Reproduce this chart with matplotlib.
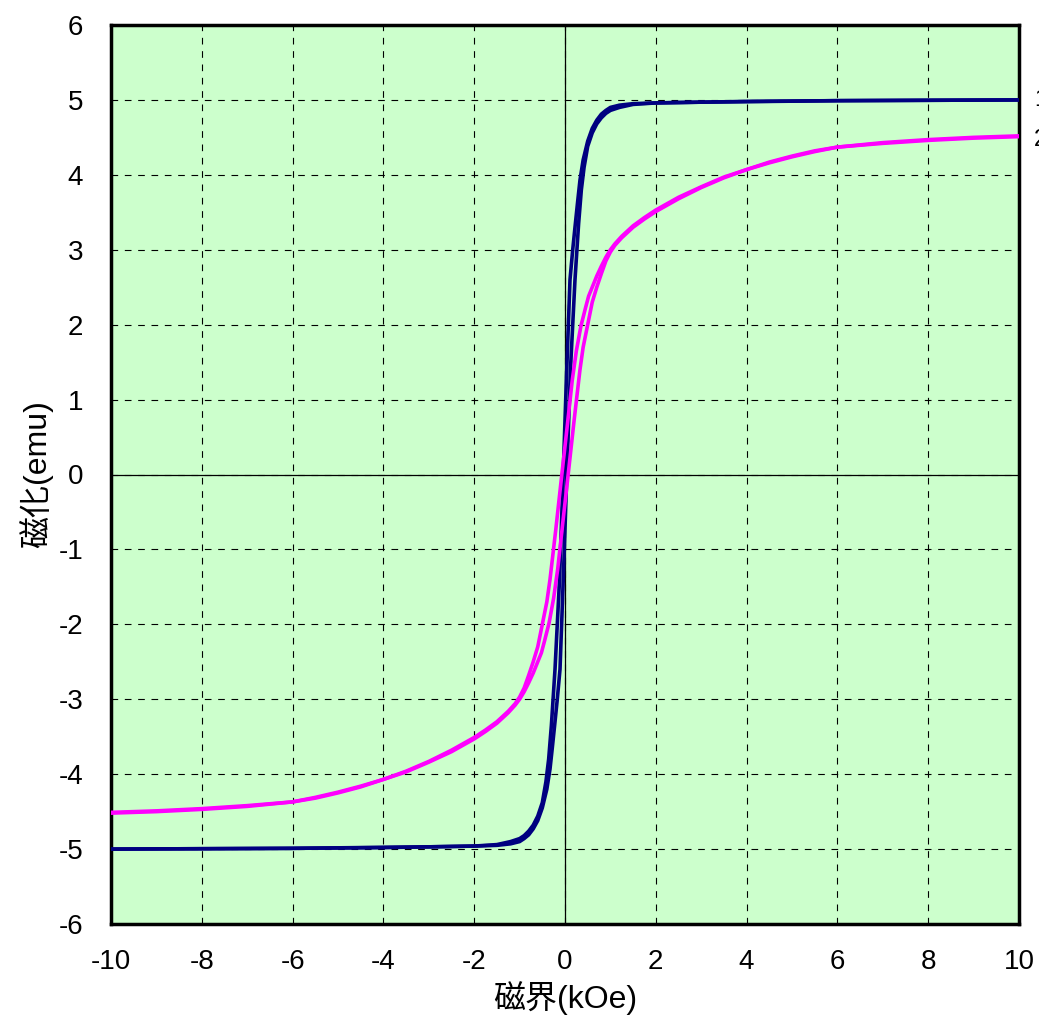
import matplotlib
matplotlib.use('Agg')
import matplotlib.pyplot as plt

plt.rcParams['font.family'] = ['Liberation Sans', 'Noto Sans CJK JP', 'DejaVu Sans']

# navy loop, descending branch (the other branch is its point mirror)
navy_h = [-10, -6, -3, -2, -1.5, -1.2, -1, -0.9, -0.8, -0.7, -0.6, -0.5, -0.42, -0.36,
          -0.3, -0.22, -0.12, -0.04, 0.03, 0.11, 0.17, 0.22, 0.28, 0.33, 0.4, 0.5, 0.6,
          0.7, 0.8, 0.9, 1, 1.2, 1.5, 2, 3, 4, 6, 10]
navy_m = [-5.0, -4.99, -4.97, -4.96, -4.94, -4.9, -4.86, -4.82, -4.76, -4.68, -4.56, -4.38,
          -4.1, -3.8, -3.35, -2.6, -1.4, 0.0, 1.26, 2.6, 3.0, 3.3, 3.65, 3.93, 4.2, 4.45,
          4.62, 4.73, 4.81, 4.86, 4.9, 4.93, 4.95, 4.96, 4.97, 4.98, 4.99, 5.0]

# magenta loop, descending branch
mag_h = [-10, -9, -8, -7, -6, -5.5, -5, -4.5, -4, -3.5, -3, -2.5, -2, -1.75, -1.5, -1.25,
         -1.1, -1, -0.9, -0.8, -0.7, -0.6, -0.5, -0.4, -0.33, -0.2, -0.07, 0.05, 0.16,
         0.25, 0.35, 0.45, 0.52, 0.6, 0.7, 0.8, 0.9, 1.0, 1.1, 1.25, 1.5, 1.75, 2, 2.5,
         3, 3.5, 4, 4.5, 5, 5.5, 6, 7, 8, 9, 10]
mag_m = [-4.51, -4.49, -4.46, -4.42, -4.37, -4.31, -4.24, -4.16, -4.07, -3.96, -3.83,
         -3.68, -3.51, -3.41, -3.3, -3.16, -3.06, -2.97, -2.85, -2.68, -2.5, -2.3, -2.0,
         -1.7, -1.4, -0.72, 0.0, 0.65, 1.26, 1.65, 1.98, 2.22, 2.38, 2.5, 2.65, 2.78,
         2.9, 3.0, 3.08, 3.18, 3.32, 3.43, 3.53, 3.7, 3.84, 3.97, 4.07, 4.17, 4.25, 4.32,
         4.37, 4.43, 4.47, 4.5, 4.52]

xticks = list(range(-10, 11, 2))
yticks = list(range(-6, 7))

fig = plt.figure(figsize=(10.39, 10.16), dpi=100)
ax = fig.add_axes([111 / 1039, 92 / 1016, 908 / 1039, 899 / 1016])
ax.set_facecolor('#CCFFCC')

ax.grid(True, color='black', linestyle=(0, (6, 6)), linewidth=0.8)
ax.axhline(0, color='black', linewidth=0.9, zorder=1.5)
ax.axvline(0, color='black', linewidth=0.9, zorder=1.5)

for h, m, c in [(navy_h, navy_m, '#000080'), (mag_h, mag_m, '#FF00FF')]:
    ax.plot(h, m, color=c, linewidth=2.6, zorder=3, solid_joinstyle='round')
    ax.plot([-v for v in h], [-v for v in m], color=c, linewidth=2.6, zorder=3,
            solid_joinstyle='round')

ax.set_xlim(-10, 10)
ax.set_ylim(-6, 6)
ax.set_xticks(xticks)
ax.set_yticks(yticks)
ax.set_xticklabels([str(t) if t >= 0 else '-' + str(-t) for t in xticks])
ax.set_yticklabels([str(t) if t >= 0 else '-' + str(-t) for t in yticks])
ax.tick_params(axis='x', length=0, labelsize=20, pad=18)
ax.tick_params(axis='y', length=0, labelsize=20, pad=20)
for s in ax.spines.values():
    s.set_linewidth(2.5)

ax.set_xlabel('磁界(kOe)', fontsize=23, labelpad=4)
ax.set_ylabel('磁化(emu)', fontsize=23, labelpad=4)

fig.text(1034 / 1039, 1 - 100 / 1016, '1', fontsize=17, va='center')
fig.text(1034 / 1039, 1 - 140 / 1016, '2', fontsize=17, va='center')

fig.savefig('out.png', dpi=100)
